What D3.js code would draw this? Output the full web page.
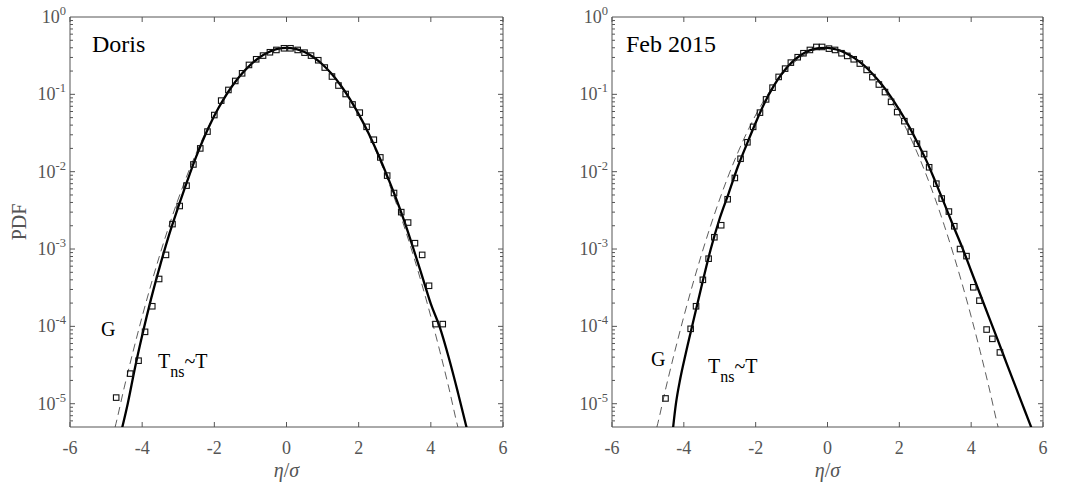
<!DOCTYPE html>
<html>
<head>
<meta charset="utf-8">
<script src="https://cdn.jsdelivr.net/npm/d3@7"></script>
<style>
  body { margin: 0; background: #fff; }
  text { font-family: "Liberation Serif", "Times New Roman", serif; }
</style>
</head>
<body>
<svg id="chart" width="1086" height="488"></svg>
<script>
// x ticks and y decades shared by both panels
var xTicks = [-6, -4, -2, 0, 2, 4, 6];
var yDecades = [0, -1, -2, -3, -4, -5];

// Gaussian reference (dashed, "G")
var gaussX = [-4.85, -4.75, -4.5, -4.25, -4, -3.75, -3.5, -3.25, -3, -2.75, -2.5, -2.25, -2, -1.75, -1.5, -1.25, -1, -0.75, -0.5, -0.25, 0,
              0.25, 0.5, 0.75, 1, 1.25, 1.5, 1.75, 2, 2.25, 2.5, 2.75, 3, 3.25, 3.5, 3.75, 4, 4.25, 4.5, 4.75, 4.85];
var gaussY = [3.4e-6, 5.0e-6, 1.6e-5, 4.77e-5, 1.34e-4, 3.53e-4, 8.73e-4, 2.03e-3, 4.43e-3, 9.09e-3, 0.0175, 0.0317, 0.054, 0.0863, 0.130, 0.183, 0.242, 0.301, 0.352, 0.387, 0.399,
              0.387, 0.352, 0.301, 0.242, 0.183, 0.130, 0.0863, 0.054, 0.0317, 0.0175, 9.09e-3, 4.43e-3, 2.03e-3, 8.73e-4, 3.53e-4, 1.34e-4, 4.77e-5, 1.6e-5, 5.0e-6, 3.4e-6];

// Doris: model curve (Tns~T) and measured PDF
var dorisCurveX = [-4.6, -4.4, -4.2, -4, -3.75, -3.5, -3.25, -3, -2.75, -2.5, -2.25, -2, -1.75, -1.5, -1.25, -1, -0.75, -0.5, -0.25, 0,
                   0.25, 0.5, 0.75, 1, 1.25, 1.5, 1.75, 2, 2.25, 2.5, 2.75, 3, 3.25, 3.5, 3.75, 4, 4.25, 4.5, 4.75, 5.05];
var dorisCurveY = [4.0e-6, 1.0e-5, 2.9e-5, 7.6e-5, 2.3e-4, 6.2e-4, 1.55e-3, 3.5e-3, 7.6e-3, 0.0158, 0.030, 0.053, 0.0855, 0.129, 0.182, 0.241, 0.300, 0.351, 0.386, 0.398,
                   0.387, 0.352, 0.302, 0.243, 0.184, 0.131, 0.088, 0.0555, 0.033, 0.0185, 0.0098, 5.0e-3, 2.4e-3, 1.07e-3, 4.6e-4, 1.95e-4, 9.7e-5, 3.9e-5, 1.4e-5, 3.8e-6];
var dorisX = [-4.72, -4.33, -4.10, -3.92, -3.72, -3.53, -3.34, -3.16, -2.96, -2.77, -2.58, -2.39, -2.19, -2.00, -1.81, -1.61, -1.42, -1.23, -1.04, -0.84, -0.65, -0.46, -0.28, -0.07,
              0.11, 0.31, 0.50, 0.68, 0.88, 1.06, 1.26, 1.44, 1.64, 1.83, 2.03, 2.22, 2.42, 2.60, 2.79, 2.98, 3.18, 3.37, 3.56, 3.76, 3.95, 4.13, 4.33];
var dorisY = [1.2e-5, 2.45e-5, 3.6e-5, 8.5e-5, 1.82e-4, 4.1e-4, 8.4e-4, 2.1e-3, 3.6e-3, 6.6e-3, 0.0124, 0.020, 0.033, 0.054, 0.083, 0.114, 0.149, 0.187, 0.240, 0.284, 0.317, 0.350, 0.375, 0.394,
              0.394, 0.375, 0.346, 0.317, 0.276, 0.222, 0.170, 0.130, 0.101, 0.074, 0.058, 0.038, 0.0259, 0.0153, 0.0089, 0.0053, 0.0030, 0.0022, 0.00119, 8.4e-4, 3.35e-4, 1.07e-4, 1.07e-4];

// Feb 2015: model curve (Tns~T) and measured PDF
var febCurveX = [-4.32, -4.22, -4.1, -3.95, -3.75, -3.5, -3.25, -3, -2.75, -2.5, -2.25, -2, -1.75, -1.5, -1.25, -1, -0.75, -0.5, -0.25, 0,
                 0.25, 0.5, 0.75, 1, 1.25, 1.5, 1.75, 2, 2.25, 2.5, 2.75, 3, 3.25, 3.5, 3.75, 4, 4.25, 4.5, 4.75, 5, 5.25, 5.5, 5.75];
var febCurveY = [4.0e-6, 1.0e-5, 2.1e-5, 4.4e-5, 1.1e-4, 3.4e-4, 1.0e-3, 2.5e-3, 5.3e-3, 0.0115, 0.0225, 0.043, 0.078, 0.128, 0.190, 0.258, 0.320, 0.370, 0.397, 0.400,
                 0.380, 0.343, 0.294, 0.240, 0.185, 0.136, 0.095, 0.063, 0.040, 0.024, 0.014, 7.5e-3, 3.9e-3, 2.0e-3, 1.05e-3, 5.2e-4, 2.6e-4, 1.3e-4, 6.5e-5, 3.2e-5, 1.6e-5, 8.0e-6, 4.0e-6];
var febX = [-4.51, -3.81, -3.66, -3.47, -3.31, -3.15, -2.96, -2.78, -2.58, -2.42, -2.23, -2.07, -1.88, -1.71, -1.53, -1.36, -1.18, -1.02, -0.83, -0.67, -0.49, -0.31, -0.15,
            0.04, 0.21, 0.39, 0.55, 0.73, 0.90, 1.09, 1.25, 1.43, 1.60, 1.77, 1.94, 2.14, 2.32, 2.49, 2.69, 2.83, 3.03, 3.18, 3.38, 3.53, 3.69, 3.87, 4.06, 4.23, 4.43, 4.59, 4.80];
var febY = [1.17e-5, 9.3e-5, 1.82e-4, 4.0e-4, 7.5e-4, 1.42e-3, 2.03e-3, 4.4e-3, 8.3e-3, 0.0147, 0.024, 0.038, 0.058, 0.086, 0.122, 0.168, 0.215, 0.257, 0.302, 0.340, 0.375, 0.410, 0.410,
            0.390, 0.375, 0.340, 0.314, 0.284, 0.250, 0.207, 0.167, 0.134, 0.107, 0.080, 0.059, 0.045, 0.033, 0.023, 0.0169, 0.0114, 0.0070, 0.0045, 0.00305, 0.00197, 1.0e-3, 8.1e-4, 3.2e-4, 2.15e-4, 9.1e-5, 6.9e-5, 4.6e-5];

var axisColor = "#555";
var svg = d3.select("#chart");

function zip(xs, ys) {
    var out = [];
    for (var i = 0; i < xs.length; i++) out.push({x: xs[i], y: ys[i]});
    return out;
}

function drawPanel(id, left, right, title, titleDx, curveX, curveY, ptsX, ptsY, showYLabel, gPos, tPos) {
    var top = 17, bottom = 427;
    var x = d3.scaleLinear().domain([-6, 6]).range([left, right]);
    var y = d3.scaleLog().domain([5e-6, 1]).range([bottom, top]);

    svg.append("clipPath").attr("id", id)
        .append("rect").attr("x", left).attr("y", top).attr("width", right - left).attr("height", bottom - top);

    var g = svg.append("g");

    // ticks: major x on bottom and top, decades and minor on left and right
    var tk = g.append("g").attr("stroke", axisColor).attr("stroke-width", 1);
    xTicks.forEach(function(t) {
        tk.append("line").attr("x1", x(t)).attr("x2", x(t)).attr("y1", bottom).attr("y2", bottom - 5);
        tk.append("line").attr("x1", x(t)).attr("x2", x(t)).attr("y1", top).attr("y2", top + 5);
    });
    yDecades.forEach(function(d) {
        for (var m = 1; m < 10; m++) {
            var v = m * Math.pow(10, d - 1);
            if (v < 5e-6 || v > 1) continue;
            var len = (m == 1) ? 5 : 3;
            tk.append("line").attr("x1", left).attr("x2", left + len).attr("y1", y(v)).attr("y2", y(v));
            tk.append("line").attr("x1", right).attr("x2", right - len).attr("y1", y(v)).attr("y2", y(v));
        }
    });
    tk.append("line").attr("x1", left).attr("x2", right).attr("y1", y(1)).attr("y2", y(1));
    tk.append("line").attr("x1", left).attr("x2", right).attr("y1", bottom).attr("y2", bottom);
    tk.append("line").attr("x1", left).attr("x2", left).attr("y1", top).attr("y2", bottom);
    tk.append("line").attr("x1", right).attr("x2", right).attr("y1", top).attr("y2", bottom);

    // tick labels
    xTicks.forEach(function(t) {
        g.append("text").attr("x", x(t)).attr("y", 454).attr("text-anchor", "middle")
            .attr("font-size", 18).attr("fill", axisColor).text(t);
    });
    yDecades.forEach(function(d) {
        var lab = g.append("text").attr("x", left - 4).attr("y", y(Math.pow(10, d)) + 6)
            .attr("text-anchor", "end").attr("font-size", 18).attr("fill", axisColor);
        lab.append("tspan").text("10");
        lab.append("tspan").attr("dy", -8).attr("font-size", 12.5).text(d);
    });

    // axis title
    var xt = g.append("text").attr("x", (left + right) / 2).attr("y", 477).attr("text-anchor", "middle")
        .attr("font-size", 20).attr("fill", axisColor).attr("font-style", "italic");
    xt.append("tspan").text("η");
    xt.append("tspan").attr("font-style", "normal").text("/");
    xt.append("tspan").text("σ");

    if (showYLabel) {
        g.append("text").attr("transform", "translate(26," + ((top + bottom) / 2) + ") rotate(-90)")
            .attr("text-anchor", "middle").attr("font-size", 20).attr("fill", axisColor).text("PDF");
    }

    var plot = g.append("g").attr("clip-path", "url(#" + id + ")");

    var line = d3.line().x(function(d) { return x(d.x); }).y(function(d) { return y(d.y); })
        .curve(d3.curveMonotoneX);

    plot.append("path").datum(zip(gaussX, gaussY))
        .attr("fill", "none").attr("stroke", "#333").attr("stroke-width", 0.8)
        .attr("stroke-dasharray", "8,5").attr("d", line);

    plot.append("path").datum(zip(curveX, curveY))
        .attr("fill", "none").attr("stroke", "#000").attr("stroke-width", 2.3).attr("d", line);

    plot.selectAll("rect.pt").data(zip(ptsX, ptsY)).enter().append("rect")
        .attr("class", "pt")
        .attr("x", function(d) { return x(d.x) - 2.75; })
        .attr("y", function(d) { return y(d.y) - 2.75; })
        .attr("width", 5.5).attr("height", 5.5)
        .attr("fill", "none").attr("stroke", "#111").attr("stroke-width", 1.1);

    // labels inside the panel
    g.append("text").attr("x", left + titleDx).attr("y", 52).attr("font-size", 24).attr("fill", "#000").text(title);
    g.append("text").attr("x", gPos[0]).attr("y", gPos[1]).attr("font-size", 20).attr("fill", "#000").text("G");
    var tn = g.append("text").attr("x", tPos[0]).attr("y", tPos[1]).attr("font-size", 20).attr("fill", "#000");
    tn.append("tspan").text("T");
    tn.append("tspan").attr("dy", 9).attr("font-size", 16).text("ns");
    tn.append("tspan").attr("dy", -9).text("~T");
}

drawPanel("clipA", 70, 503, "Doris", 22, dorisCurveX, dorisCurveY, dorisX, dorisY, true, [101, 336], [158, 368]);
drawPanel("clipB", 612, 1043, "Feb 2015", 14, febCurveX, febCurveY, febX, febY, false, [651, 366], [708, 373]);
</script>
</body>
</html>
